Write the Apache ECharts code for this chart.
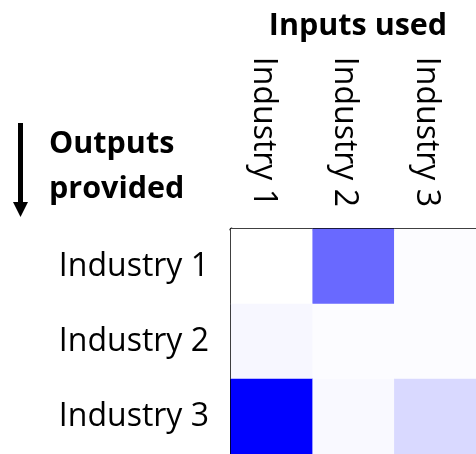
<!DOCTYPE html>
<html>
<head>
<meta charset="utf-8">
<script src="https://cdn.jsdelivr.net/npm/echarts@6/dist/echarts.min.js"></script>
<style>
html,body{margin:0;padding:0;background:#fff;}
#chart{width:476px;height:454px;}
</style>
</head>
<body>
<div id="chart"></div>
<script>
const inputCategories = ['Industry 1', 'Industry 2', 'Industry 3'];
const outputCategories = ['Industry 1', 'Industry 2', 'Industry 3'];
// rows: outputs provided by industry; columns: inputs used by industry
const row1 = [0.00, 0.59, 0.01];
const row2 = [0.03, 0.01, 0.01];
const row3 = [1.00, 0.025, 0.15];
const rows = [row1, row2, row3];
const titleText = 'Inputs used';
const sideText = 'Outputs\nprovided';

const data = [];
rows.forEach((r, yi) => r.forEach((v, xi) => data.push([xi, yi, v])));

const FONT = 'Open Sans';
const chart = echarts.init(document.getElementById('chart'), null, {renderer: 'canvas'});
chart.setOption({
  animation: false,
  backgroundColor: '#ffffff',
  grid: {left: 231, top: 229, width: 255, height: 231, containLabel: false},
  xAxis: {
    type: 'category',
    position: 'top',
    data: inputCategories,
    axisLine: {show: true, lineStyle: {color: '#000', width: 3}},
    axisTick: {show: false},
    splitLine: {show: false},
    axisLabel: {
      rotate: 90, margin: 22, color: '#000', fontFamily: FONT, fontSize: 32,
      formatter: '{a|{value}}',
      rich: {a: {fontFamily: FONT, fontSize: 32, color: '#000', lineHeight: 32, padding: [18, 0, 0, 0]}}
    }
  },
  yAxis: {
    type: 'category',
    inverse: true,
    data: outputCategories,
    axisLine: {show: true, lineStyle: {color: '#000', width: 3}},
    axisTick: {show: false},
    splitLine: {show: false},
    axisLabel: {margin: 22, color: '#000', fontFamily: FONT, fontSize: 32, padding: [0, 0, 8, 0]}
  },
  visualMap: {
    show: false,
    min: 0,
    max: 1,
    inRange: {color: ['#ffffff', '#0000ff']}
  },
  series: [{
    type: 'heatmap',
    data: data,
    itemStyle: {borderWidth: 0},
    emphasis: {disabled: true}
  }],
  graphic: [
    {type: 'text', x: 358, y: 11, style: {text: titleText, textAlign: 'center', fontFamily: FONT, fontWeight: 'bold', fontSize: 30.5, fill: '#000'}},
    {type: 'text', left: 49, top: 122, style: {text: sideText, fontFamily: FONT, fontWeight: 'bold', fontSize: 30.5, lineHeight: 45, fill: '#000'}},
    {type: 'line', shape: {x1: 20.5, y1: 123, x2: 20.5, y2: 204}, style: {stroke: '#000', lineWidth: 5}},
    {type: 'polygon', shape: {points: [[13, 202], [28, 202], [20.5, 217]]}, style: {fill: '#000'}}
  ]
});
</script>
</body>
</html>
